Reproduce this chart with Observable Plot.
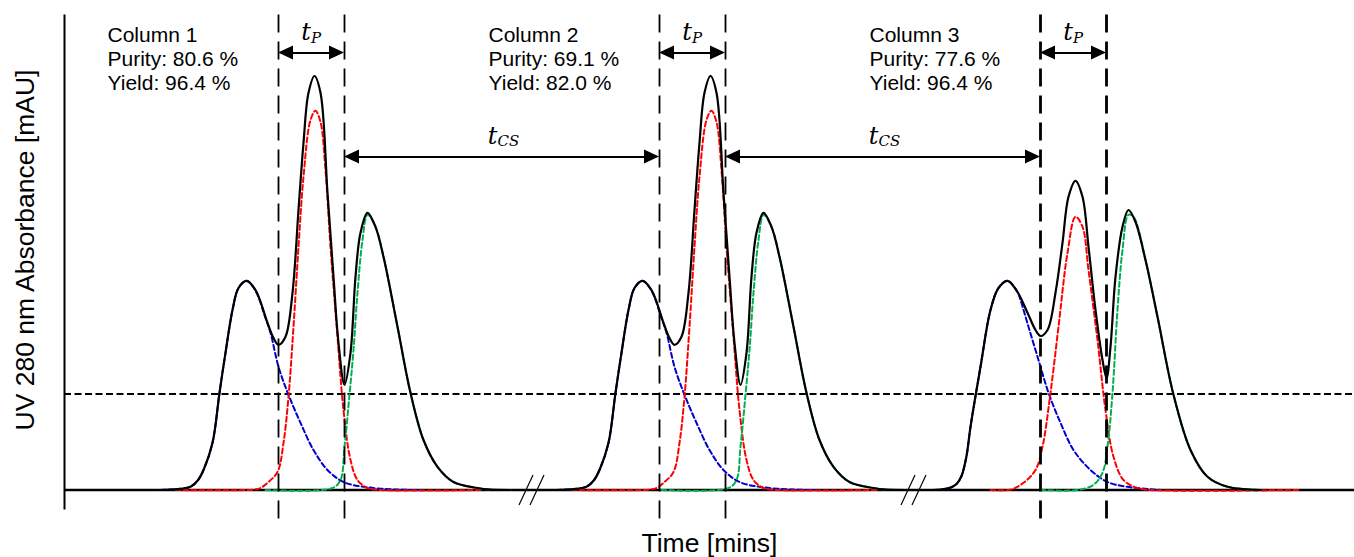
<!DOCTYPE html>
<html>
<head>
<meta charset="utf-8">
<script src="https://cdn.jsdelivr.net/npm/d3@7"></script>
<script src="https://cdn.jsdelivr.net/npm/@observablehq/plot@0.6"></script>
<style>
  html, body { margin: 0; padding: 0; background: #fff; overflow: hidden; }
  #chart svg { display: block; }
</style>
</head>
<body>
<div id="chart"></div>
<script>
// ---------------- data (time [min], absorbance [mAU]) ----------------
const columnLabels = ["Column 1", "Column 2", "Column 3"];
const purityPct = [80.6, 69.1, 77.6];
const yieldPct = [96.4, 82.0, 96.4];
const cutStart = [21.4, 59.5, 97.6];   // start of product collection window
const cutEnd = [28.0, 66.1, 104.2];    // end of product collection window
const thresholdMAU = 24;
const axisBreaks = [46.7, 84.9];
const timeExtent = [0, 129];

// Column 1
const col1Total = [[9.6,0],[10.6,0.1],[11.6,0.3],[12.6,0.8],[13.3,2.3],[13.9,5.0],[14.8,11.8],[15.5,24.3],[16.1,34.3],[16.8,45.0],[17.4,50.5],[18.2,52.3],[19.1,50.0],[20.3,41.8],[20.9,38.0],[21.4,36.3],[22.1,38.3],[22.8,49.3],[23.4,70.0],[23.9,86.8],[24.4,99.3],[25.0,103.5],[25.6,99.3],[26.3,74.3],[26.9,53.3],[27.4,36.8],[28.0,26.3],[28.6,34.3],[29.1,53.3],[29.6,64.3],[30.3,69.3],[31.1,65.8],[31.9,58.3],[33.3,40.8],[34.6,24.3],[35.9,12.5],[37.3,5.8],[38.9,2.0],[41.3,0.5],[42.6,0.1],[44.6,0]];
const col1Early = [[9.6,0],[10.6,0.1],[11.6,0.3],[12.6,0.8],[13.3,2.3],[13.9,5.0],[14.8,11.8],[15.5,24.3],[16.1,34.3],[16.8,45.0],[17.4,50.5],[18.2,52.3],[19.1,49.8],[20.1,43.0],[20.6,39.3],[21.4,30.8],[22.4,23.8],[23.6,16.8],[24.9,10.0],[26.3,5.0],[27.9,2.0],[29.9,0.8],[33.3,0.1],[35.6,0]];
const col1Product = [[11.1,0],[18.9,0.1],[19.6,0.5],[20.3,1.8],[21.3,4.5],[21.9,11.8],[22.4,23.3],[22.9,40.8],[23.4,60.8],[23.9,78.3],[24.6,92.5],[25.1,94.8],[25.6,92.0],[26.1,80.0],[26.6,60.8],[27.3,38.3],[27.9,20.0],[28.6,7.5],[29.3,2.5],[30.3,0.5],[31.6,0],[41.6,0]];
const col1Late = [[20.1,0],[26.8,0.5],[27.6,2.5],[28.0,10.8],[28.5,23.8],[28.9,35.0],[29.3,49.3],[29.8,62.5],[30.3,68.8],[31.1,65.8],[31.9,58.3],[33.3,40.8],[34.6,24.3],[35.9,12.5],[37.3,5.8],[38.9,2.0],[41.3,0.5],[42.6,0.1],[44.6,0]];

// Column 2
const col2Total = [[49.2,0],[50.2,0.1],[51.2,0.3],[52.2,0.8],[52.9,2.3],[53.5,5.0],[54.4,11.8],[55.1,24.3],[55.7,34.3],[56.4,45.0],[57.0,50.5],[57.8,52.3],[58.7,50.0],[59.9,41.8],[60.5,38.0],[61.0,36.3],[61.7,38.3],[62.4,49.3],[63.0,70.0],[63.5,86.8],[64.0,99.3],[64.6,103.5],[65.2,99.3],[65.9,74.3],[66.5,53.3],[67.0,36.8],[67.6,26.3],[68.2,34.3],[68.7,53.3],[69.2,64.3],[69.9,69.3],[70.7,65.8],[71.5,58.3],[72.9,40.8],[74.2,24.3],[75.5,12.5],[76.9,5.8],[78.5,2.0],[80.9,0.5],[82.2,0.1],[84.2,0]];
const col2Early = [[49.2,0],[50.2,0.1],[51.2,0.3],[52.2,0.8],[52.9,2.3],[53.5,5.0],[54.4,11.8],[55.1,24.3],[55.7,34.3],[56.4,45.0],[57.0,50.5],[57.8,52.3],[58.7,49.8],[59.7,43.0],[60.2,39.3],[61.0,30.8],[62.0,23.8],[63.2,16.8],[64.5,10.0],[65.9,5.0],[67.5,2.0],[69.5,0.8],[72.9,0.1],[75.2,0]];
const col2Product = [[50.7,0],[58.5,0.1],[59.2,0.5],[59.9,1.8],[60.9,4.5],[61.5,11.8],[62.0,23.3],[62.5,40.8],[63.0,60.8],[63.5,78.3],[64.2,92.5],[64.7,94.8],[65.2,92.0],[65.7,80.0],[66.2,60.8],[66.9,38.3],[67.5,20.0],[68.2,7.5],[68.9,2.5],[69.9,0.5],[71.2,0],[81.2,0]];
const col2Late = [[59.7,0],[66.4,0.5],[67.2,2.5],[67.6,10.8],[68.1,23.8],[68.5,35.0],[68.9,49.3],[69.4,62.5],[69.9,68.8],[70.7,65.8],[71.5,58.3],[72.9,40.8],[74.2,24.3],[75.5,12.5],[76.9,5.8],[78.5,2.0],[80.9,0.5],[82.2,0.1],[84.2,0]];

// Column 3
const col3Total = [[86.1,0],[87.6,0.1],[88.6,0.6],[89.2,1.5],[89.7,3.5],[90.2,8.5],[90.6,15.8],[91.6,30.8],[92.6,45.0],[93.4,50.5],[94.3,52.3],[95.3,49.5],[96.3,44.3],[97.1,40.0],[97.6,38.5],[98.3,40.0],[99.1,49.3],[99.8,61.8],[100.4,73.3],[101.1,77.3],[101.8,73.3],[102.4,60.8],[103.1,45.0],[103.8,32.5],[104.2,28.0],[104.6,35.8],[105.1,53.3],[105.8,65.8],[106.4,70.0],[107.1,67.0],[108.1,57.5],[109.3,43.3],[110.9,23.8],[112.6,10.0],[114.3,3.3],[116.3,0.8],[119.6,0]];
const col3Early = [[86.1,0],[87.6,0.1],[88.6,0.6],[89.2,1.5],[89.7,3.5],[90.2,8.5],[90.6,15.8],[91.6,30.8],[92.6,45.0],[93.4,50.5],[94.3,52.3],[95.3,49.5],[95.6,47.5],[96.4,40.8],[97.4,32.5],[98.4,24.3],[99.6,16.8],[100.9,10.0],[102.6,5.0],[104.3,2.0],[106.3,0.8],[109.6,0]];
const col3Product = [[92.6,0],[94.6,0.1],[95.9,1.8],[97.1,5.0],[97.8,10.8],[98.6,24.3],[99.4,40.8],[100.3,59.3],[101.1,68.3],[101.8,65.8],[102.4,55.0],[103.3,37.5],[104.1,20.0],[104.9,8.3],[105.9,2.5],[107.3,0.5],[108.6,0],[123.6,0]];
const col3Late = [[97.6,0],[101.3,0],[102.9,1.3],[103.8,4.3],[104.3,10.8],[104.8,24.3],[105.3,45.0],[105.8,60.0],[106.4,68.8],[106.9,68.3],[108.1,57.5],[109.3,43.3],[110.9,23.8],[112.6,10.0],[114.3,3.3],[116.3,0.8],[119.6,0]];

// ---------------- build tables ----------------
const toRows = (arr, col, comp) => arr.map(([t, v]) => ({col, comp, t, v}));
const totals = [
  ...toRows(col1Total, 0, "total"), ...toRows(col2Total, 1, "total"), ...toRows(col3Total, 2, "total")
];
const components = [
  ...toRows(col1Early, 0, "early"), ...toRows(col1Product, 0, "product"), ...toRows(col1Late, 0, "late"),
  ...toRows(col2Early, 1, "early"), ...toRows(col2Product, 1, "product"), ...toRows(col2Late, 1, "late"),
  ...toRows(col3Early, 2, "early"), ...toRows(col3Product, 2, "product"), ...toRows(col3Late, 2, "late")
];
const compColor = {early: "#0000cc", product: "#ff0000", late: "#00b050"};

const cutLines = [];
cutStart.forEach((t, i) => { cutLines.push({col: i, t}); cutLines.push({col: i, t: cutEnd[i]}); });

const tpArrowY = 109.25, tcsArrowY = 83.25;
const arrows = [];
cutStart.forEach((t, i) => arrows.push({id: "tp" + i, x1: t, x2: cutEnd[i], y: tpArrowY}));
for (let i = 0; i < cutStart.length - 1; i++) arrows.push({id: "tcs" + i, x1: cutEnd[i], x2: cutStart[i + 1], y: tcsArrowY});
const headL = 1.5, headH = 1.75;
const heads = [];
arrows.forEach(a => {
  heads.push({id: a.id + "L", x: a.x1, y1: a.y, y2: a.y});
  heads.push({id: a.id + "L", x: a.x1 + headL, y1: a.y - headH, y2: a.y + headH});
  heads.push({id: a.id + "R", x: a.x2 - headL, y1: a.y - headH, y2: a.y + headH});
  heads.push({id: a.id + "R", x: a.x2, y1: a.y, y2: a.y});
});

const slashes = [];
axisBreaks.forEach(b => [-0.55, 0.55].forEach(o => slashes.push({x1: b + o - 0.7, y1: -3.75, x2: b + o + 0.7, y2: 3.75})));

const info = columnLabels.map((name, i) => ({
  x: cutStart[i] - 17.1,
  text: `${name}\nPurity: ${purityPct[i].toFixed(1)} %\nYield: ${yieldPct[i].toFixed(1)} %`
}));
const tpLabels = cutStart.map((t, i) => ({x: (t + cutEnd[i]) / 2}));
const tcsLabels = arrows.filter(a => a.id.startsWith("tcs")).map(a => ({x: (a.x1 + a.x2) / 2}));

const sans = "'Liberation Sans', Arial, sans-serif";
const serif = "'DejaVu Serif', 'Liberation Serif', serif";

const chart = Plot.plot({
  width: 1354,
  height: 557,
  margin: 0,
  x: {domain: [-6.4, 129.0], axis: null},
  y: {domain: [-16.875, 122.375], axis: null},
  style: {fontFamily: sans, background: "#fff", color: "#000"},
  marks: [
    // baseline and y axis
    Plot.ruleY([0], {x1: timeExtent[0], x2: timeExtent[1], stroke: "#000", strokeWidth: 2.5}),
    Plot.ruleX([timeExtent[0]], {y1: -5, y2: 118.75, stroke: "#000", strokeWidth: 2}),
    // threshold
    Plot.ruleY([thresholdMAU], {x1: timeExtent[0], x2: timeExtent[1], stroke: "#000", strokeWidth: 1.8, strokeDasharray: "7,3.5"}),
    // axis breaks
    Plot.link(slashes, {x1: "x1", y1: "y1", x2: "x2", y2: "y2", stroke: "#000", strokeWidth: 1.2}),
    // component peaks
    Plot.line(components, {x: "t", y: "v", z: d => d.col + d.comp, stroke: d => compColor[d.comp], strokeWidth: 2, strokeDasharray: "5,3", curve: "catmull-rom"}),
    // total signal
    Plot.line(totals, {x: "t", y: "v", z: "col", stroke: "#000", strokeWidth: 2.2, curve: "catmull-rom"}),
    // cut lines
    Plot.ruleX(cutLines, {x: "t", y1: 118.75, y2: -9.5, stroke: "#000", strokeWidth: d => d.col === 2 ? 2.8 : 1.8, strokeDasharray: "18,9"}),
    // arrows
    Plot.link(arrows, {x1: d => d.x1 + 1, x2: d => d.x2 - 1, y1: "y", y2: "y", stroke: "#000", strokeWidth: 2}),
    Plot.area(heads, {x1: "x", y1: "y1", y2: "y2", z: "id", fill: "#000", curve: "linear"}),
    // column info text
    Plot.text(info, {x: "x", y: 100, text: "text", textAnchor: "start", lineAnchor: "bottom", lineHeight: 1.143, fontSize: 21, fill: "#000"}),
    // t_P labels
    Plot.text(tpLabels, {x: "x", y: 112.5, text: () => "t", textAnchor: "end", lineAnchor: "bottom", dx: -0.5, fontFamily: serif, fontStyle: "italic", fontSize: 24, fill: "#000"}),
    Plot.text(tpLabels, {x: "x", y: 112.5, text: () => "P", textAnchor: "start", lineAnchor: "bottom", dx: -0.5, dy: 3, fontFamily: serif, fontStyle: "italic", fontSize: 15, fill: "#000"}),
    // t_CS labels
    Plot.text(tcsLabels, {x: "x", y: 86.5, text: () => "t", textAnchor: "end", lineAnchor: "bottom", dx: -4.5, fontFamily: serif, fontStyle: "italic", fontSize: 24, fill: "#000"}),
    Plot.text(tcsLabels, {x: "x", y: 86.5, text: () => "CS", textAnchor: "start", lineAnchor: "bottom", dx: -4.5, dy: 2, fontFamily: serif, fontStyle: "italic", fontSize: 15, fill: "#000"}),
    // axis labels
    Plot.text(["Time [mins]"], {x: (timeExtent[0] + timeExtent[1]) / 2, y: -15.5, text: d => d, textAnchor: "middle", lineAnchor: "bottom", fontSize: 26.5, fill: "#000"}),
    Plot.text(["UV 280 nm Absorbance [mAU]"], {x: -3.1, y: 60, text: d => d, rotate: -90, textAnchor: "middle", lineAnchor: "bottom", fontSize: 26.5, fill: "#000"})
  ]
});
document.getElementById("chart").appendChild(chart);
</script>
</body>
</html>
